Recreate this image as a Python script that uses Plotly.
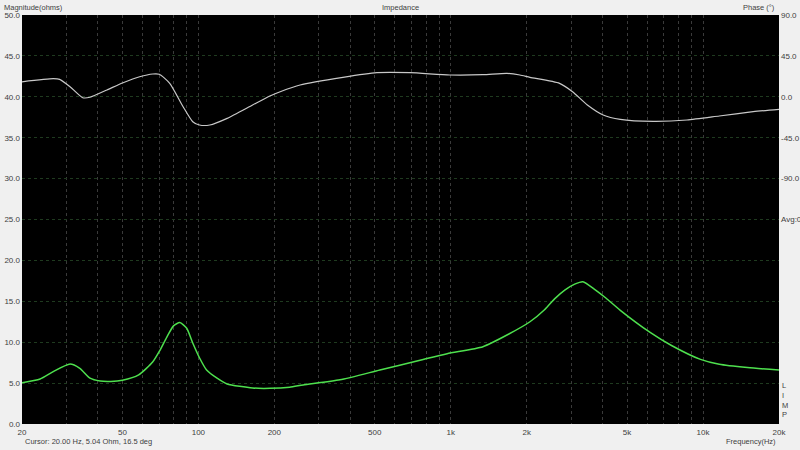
import plotly.graph_objects as go

# Impedance magnitude (ohms)
freq_mag = [20, 23.6, 26.6, 31, 33.9, 37.2, 40.8, 45, 50, 58, 66, 70.1, 74.9, 79.7, 84.4, 89.9,
            95, 101, 107.8, 118.6, 130, 164, 192, 230, 260, 364, 524, 756, 968, 1342, 1700,
            2061, 2360, 2580, 2840, 3100, 3340, 3740, 4120, 4700, 6170, 7500, 9770, 11600,
            15000, 20000]
mag_ohms = [5.04, 5.5, 6.4, 7.33, 6.8, 5.6, 5.25, 5.2, 5.35, 6.0, 7.6, 8.9, 10.6, 12.0, 12.4, 11.7,
            9.9, 8.1, 6.6, 5.6, 4.9, 4.4, 4.36, 4.5, 4.77, 5.4, 6.6, 7.8, 8.6, 9.45, 11.0,
            12.5, 14.0, 15.3, 16.4, 17.1, 17.4, 16.4, 15.4, 13.9, 11.2, 9.6, 7.9, 7.3,
            6.9, 6.6]

# Impedance phase (degrees)
freq_ph = [20, 26.6, 28.2, 31, 34.8, 37.2, 43.4, 50.3, 58.5, 66, 70, 77, 87, 95, 101, 111, 130,
           164, 192, 211, 253, 374, 510, 690, 992, 1342, 1670, 1880, 2061, 2700, 3040, 3480,
           4020, 4700, 6340, 8640, 11600, 15800, 20000]
phase_deg = [16.5, 19.9, 19.2, 11.1, -1.0, -0.5, 7.5, 15.5, 22.1, 25.1, 24.8, 14.8, -10.9, -27.4,
             -31.0, -31.0, -23.7, -9.0, 0.9, 5.6, 13.0, 21.4, 26.5, 26.5, 24.0, 24.3, 25.8, 24.0,
             21.4, 14.8, 5.6, -9.0, -20.0, -24.8, -27.0, -25.5, -21.1, -16.4, -13.8]

grid_freqs = [20, 30, 40, 50, 60, 70, 80, 90, 100, 200, 300, 400, 500, 600, 700, 800, 900,
              1000, 2000, 3000, 4000, 5000, 6000, 7000, 8000, 9000, 10000, 20000]
labeled = {20: "20", 50: "50", 100: "100", 200: "200", 500: "500", 1000: "1k",
           2000: "2k", 5000: "5k", 10000: "10k", 20000: "20k"}
x_ticktext = [labeled.get(f, "") for f in grid_freqs]

mag_ticks = [0, 5, 10, 15, 20, 25, 30, 35, 40, 45, 50]
phase_ticks = [90, 45, 0, -45, -90, -135]
phase_ticktext = ["90.0", "45.0", "0.0", "-45.0", "-90.0", "Avg:0"]

tick_font = dict(family="Liberation Sans", size=8, color="#404040")
note_font = dict(family="Liberation Sans", size=7.5, color="#404040")

fig = go.Figure()
fig.add_trace(go.Scatter(x=freq_ph, y=phase_deg, mode="lines", yaxis="y2",
                         line=dict(color="#c8c8c8", width=1.2, shape="spline", smoothing=0.6),
                         showlegend=False))
fig.add_trace(go.Scatter(x=freq_mag, y=mag_ohms, mode="lines",
                         line=dict(color="#4ee04e", width=1.5, shape="spline", smoothing=0.6),
                         showlegend=False))

fig.update_layout(
    width=800, height=450,
    margin=dict(l=22, r=21, t=15, b=26, autoexpand=False),
    paper_bgcolor="#f0f0f0", plot_bgcolor="#000000",
    font=note_font,
    xaxis=dict(type="log", range=[1.30103, 4.30103], tickvals=grid_freqs, ticktext=x_ticktext,
               showgrid=True, gridcolor="#3a3a3a", griddash="dot", gridwidth=1, automargin=False,
               zeroline=False, showline=False, ticks="", tickfont=tick_font, ticklabelstandoff=2),
    yaxis=dict(range=[0, 50], tickvals=mag_ticks, tickformat=".1f", automargin=False,
               showgrid=True, gridcolor="#1f3a1f", griddash="dot", gridwidth=1,
               zeroline=False, showline=False, ticks="", tickfont=tick_font, ticklabelstandoff=1),
    yaxis2=dict(range=[-360, 90], overlaying="y", side="right", tickvals=phase_ticks,
                ticktext=phase_ticktext, showgrid=False, zeroline=False, ticks="",
                automargin=False, tickfont=tick_font, ticklabelstandoff=1),
    annotations=[
        dict(text="Impedance", x=0.5, xref="paper", y=1, yref="paper", yanchor="bottom",
             yshift=1, showarrow=False),
        dict(text="Phase (°)", x=1, xref="paper", xanchor="right", xshift=-2, y=1, yref="paper",
             yanchor="bottom", yshift=1, showarrow=False),
        dict(text="Magnitude(ohms)", x=0, xref="paper", xanchor="left", xshift=-20, y=1,
             yref="paper", yanchor="bottom", yshift=1, showarrow=False),
        dict(text="Cursor: 20.00 Hz, 5.04 Ohm, 16.5 deg", x=0, xref="paper", xanchor="left",
             xshift=1, y=0, yref="paper", yanchor="top", yshift=-11, showarrow=False),
        dict(text="Frequency(Hz)", x=1, xref="paper", xanchor="right", xshift=-1, y=0,
             yref="paper", yanchor="top", yshift=-11, showarrow=False),
        dict(text="L<br>I<br>M<br>P", x=1, xref="paper", xanchor="left", xshift=1, y=0,
             yref="paper", yanchor="bottom", yshift=3, showarrow=False, align="left"),
    ],
)

fig.write_html("out.html", config={"displayModeBar": False},
               post_script="document.body.style.margin='0';document.body.style.background='#f0f0f0';")
